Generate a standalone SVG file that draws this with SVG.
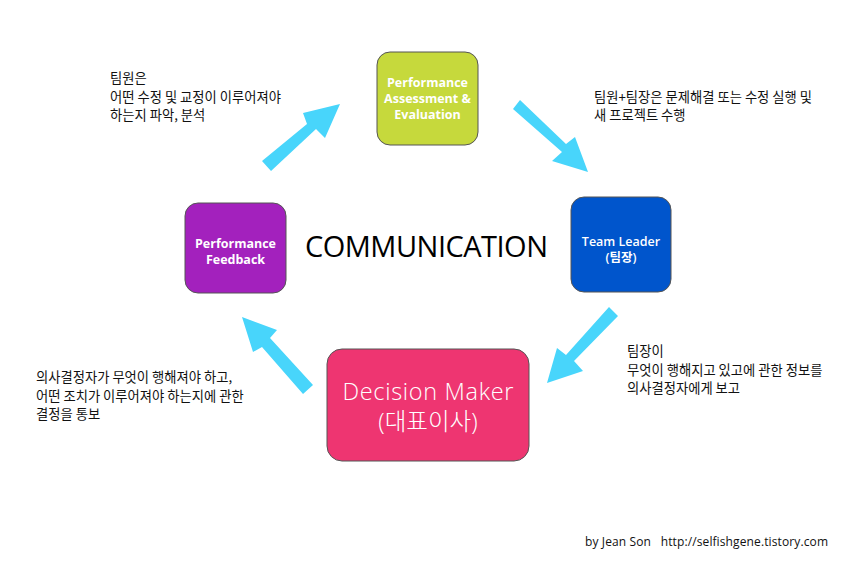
<svg xmlns="http://www.w3.org/2000/svg" width="864" height="581" viewBox="0 0 864 581">
<defs>
<style>
.node{stroke:#555;stroke-width:1}
.nt{font-family:"Open Sans","Noto Sans CJK KR",sans-serif;font-weight:bold;font-size:12.5px;fill:#fff;text-anchor:middle}
.dm{font-family:"Open Sans","Noto Sans CJK KR",sans-serif;font-weight:300;font-size:23.5px;fill:#fff;text-anchor:middle}
.note{font-family:"Noto Sans CJK KR",sans-serif;font-size:13.3px;fill:#111}
.arrow{fill:#48d5fb}
</style>
</defs>
<rect width="864" height="581" fill="#fff"/>
<g id="node-assessment">
<rect class="node" x="377" y="52" width="101" height="93" rx="13" fill="#c6d93c"/>
<text class="nt" x="427.5" y="87">Performance</text>
<text class="nt" x="427.5" y="103">Assessment &amp;</text>
<text class="nt" x="427.5" y="119">Evaluation</text>
</g>
<g id="node-teamleader">
<rect class="node" x="571" y="197" width="100" height="95" rx="13" fill="#0055cc"/>
<text class="nt" x="621" y="246" style="font-weight:600">Team Leader</text>
<text class="nt" x="621" y="262" style="font-weight:600">(팀장)</text>
</g>
<g id="node-feedback">
<rect class="node" x="185" y="203" width="101" height="90" rx="13" fill="#a321bd"/>
<text class="nt" x="235.5" y="248">Performance</text>
<text class="nt" x="235.5" y="264">Feedback</text>
</g>
<g id="node-decision">
<rect class="node" x="327" y="349" width="202" height="112" rx="15" fill="#ee3571"/>
<text class="dm" x="428" y="400" textLength="171">Decision Maker</text>
<text class="dm" x="428" y="430">(대표이사)</text>
</g>
<g id="connectors">
<polygon class="arrow" points="262,161 307,124 303,113 340,104 325,138 316,129 271,171"/>
<polygon class="arrow" points="513,109 520,100 566,144 575,137 588,172 552,161 562,152"/>
<polygon class="arrow" points="609,307 618,316 574,361 583,371 547,383 557,348 566,355"/>
<polygon class="arrow" points="313,385 303,394 262,347 253,352 242,317 277,330 270,338"/>
</g>
<text x="305" y="257" font-family="'Open Sans',sans-serif" font-size="29" fill="#000" textLength="243">COMMUNICATION</text>
<g class="note">
<text x="110" y="83">팀원은</text>
<text x="110" y="101.5">어떤 수정 및 교정이 이루어져야</text>
<text x="110" y="120">하는지 파악, 분석</text>
<text x="594" y="101.5">팀원+팀장은 문제해결 또는 수정 실행 및</text>
<text x="594" y="120">새 프로젝트 수행</text>
<text x="627" y="356">팀장이</text>
<text x="627" y="374.5">무엇이 행해지고 있고에 관한 정보를</text>
<text x="627" y="393">의사결정자에게 보고</text>
<text x="36" y="382">의사결정자가 무엇이 행해져야 하고,</text>
<text x="36" y="400.5">어떤 조치가 이루어져야 하는지에 관한</text>
<text x="36" y="419">결정을 통보</text>
</g>
<text x="585" y="546" font-family="'Open Sans',sans-serif" font-size="12" fill="#111" textLength="243" xml:space="preserve">by Jean Son   http://selfishgene.tistory.com</text>
</svg>
